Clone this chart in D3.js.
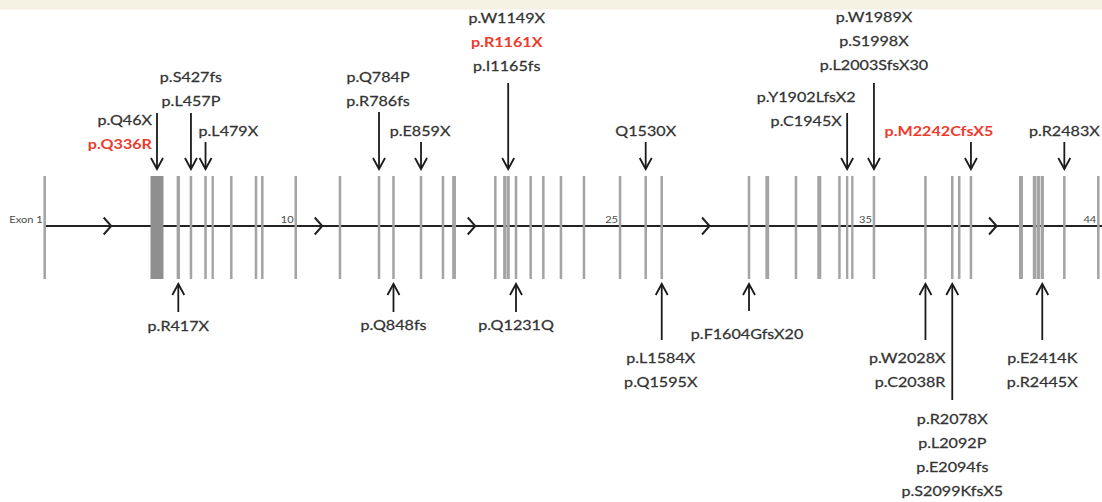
<!DOCTYPE html>
<html><head><meta charset="utf-8">
<script src="https://cdn.jsdelivr.net/npm/d3@7"></script>
<style>
body{margin:0;background:#fff;}
svg text{font-family:Lato,"Open Sans","Noto Sans",sans-serif;}
</style></head>
<body><svg id="chart" width="1102" height="502"></svg>
<script>
// ---- data (gene coordinate: 0 = exon 1, 100 = end of gene) ----
const exonPos = [0, 10.64, 12.66, 13.86, 15.24, 15.92, 17.68, 20.02, 20.62, 23.79,
  27.98, 31.68, 33.05, 35.66, 37.74, 38.79, 42.70, 43.59, 43.92, 44.66,
  46.05, 47.25, 48.92, 51.10, 54.52, 56.95, 58.47, 66.74, 68.47, 71.19,
  73.40, 75.31, 76.04, 76.53, 78.58, 83.46, 86.00, 86.66, 87.77, 92.51,
  93.79, 94.15, 94.53, 96.62, 99.84];
const exonLen = [0.24, 1.23, 0.32, 0.24, 0.24, 0.22, 0.24, 0.24, 0.24, 0.24,
  0.24, 0.24, 0.24, 0.24, 0.24, 0.36, 0.24, 0.30, 0.30, 0.24,
  0.24, 0.24, 0.24, 0.24, 0.24, 0.24, 0.24, 0.24, 0.36, 0.24,
  0.38, 0.24, 0.22, 0.22, 0.24, 0.24, 0.24, 0.24, 0.24, 0.38,
  0.32, 0.32, 0.32, 0.24, 0.24];
const exonNumberIndex = [0, 9, 24, 34, 44];
const exonNumberText = ["Exon 1", "10", "25", "35", "44"];
const directionMarks = [6.3, 26.3, 40.8, 63.0, 90.2];

const topExon = [1, 3, 4, 11, 13, 18, 25, 32, 34, 38, 43];
const topLabels = [
  ["p.Q46X", "p.Q336R"],
  ["p.S427fs", "p.L457P"],
  ["p.L479X"],
  ["p.Q784P", "p.R786fs"],
  ["p.E859X"],
  ["p.W1149X", "p.R1161X", "p.I1165fs"],
  ["Q1530X"],
  ["p.Y1902LfsX2", "p.C1945X"],
  ["p.W1989X", "p.S1998X", "p.L2003SfsX30"],
  ["p.M2242CfsX5"],
  ["p.R2483X"]
];
const topHighlight = [[false, true], [false, false], [false], [false, false], [false],
  [false, true, false], [false], [false, false], [false, false, false], [true], [false]];

const bottomExon = [2, 12, 19, 26, 27, 35, 36, 42];
const bottomLabels = [
  ["p.R417X"],
  ["p.Q848fs"],
  ["p.Q1231Q"],
  ["p.L1584X", "p.Q1595X"],
  ["p.F1604GfsX20"],
  ["p.W2028X", "p.C2038R"],
  ["p.R2078X", "p.L2092P", "p.E2094fs", "p.S2099KfsX5"],
  ["p.E2414K", "p.R2445X"]
];

// ---- layout (pixels) ----
const topLayout = [
  {dx: -5, anchor: "end", y0: 120, tail: 113},
  {dx: 0, anchor: "middle", y0: 77, tail: 113},
  {dx: -7, anchor: "start", y0: 131, tail: 142},
  {dx: -1, anchor: "middle", y0: 77, tail: 112},
  {dx: -1, anchor: "middle", y0: 131, tail: 142},
  {dx: -1.5, anchor: "middle", y0: 18, tail: 83},
  {dx: 0, anchor: "middle", y0: 131, tail: 142},
  {dx: -41, anchor: "middle", y0: 97, tail: 113},
  {dx: 0, anchor: "middle", y0: 17, tail: 83},
  {dx: -32, anchor: "middle", y0: 131, tail: 142},
  {dx: 0, anchor: "middle", y0: 131, tail: 142}
];
const bottomLayout = [
  {dx: 0, anchor: "middle", y0: 326, tail: 312},
  {dx: 0, anchor: "middle", y0: 325, tail: 312},
  {dx: 0, anchor: "middle", y0: 325, tail: 312},
  {dx: -1, anchor: "middle", y0: 358, tail: 340},
  {dx: -2, anchor: "middle", y0: 334, tail: 311},
  {dx: 20, anchor: "end", y0: 358, tail: 340},
  {dx: 0, anchor: "middle", y0: 419, tail: 400},
  {dx: 0, anchor: "middle", y0: 358, tail: 340}
];

const W = 1102, H = 502;
const lineY = 226, exonTop = 176, exonBot = 279;
const topTip = 169, botTip = 284;
const lineGap = 24;
const fontSize = 13.8, stretch = 1.17;
const textColor = "#333333", red = "#ee3a2c";

const svg = d3.select("#chart");
svg.append("rect").attr("x", 0).attr("y", 0).attr("width", W).attr("height", 9.5).attr("fill", "#f4f0e2");

const x = d3.scaleLinear().domain([0, 100]).range([44.7, 1100]);
const wScale = d3.scaleLinear().domain([0, 100]).range([0, 1100 - 44.7]);

// main line
svg.append("line").attr("x1", x(0)).attr("x2", x(100) + 2)
  .attr("y1", lineY).attr("y2", lineY).attr("stroke", "#222").attr("stroke-width", 2);

// exons
svg.append("g").selectAll("rect").data(exonPos).join("rect")
  .attr("x", (d, i) => x(d) - wScale(exonLen[i]) / 2)
  .attr("width", (d, i) => wScale(exonLen[i]))
  .attr("y", exonTop).attr("height", exonBot - exonTop)
  .attr("fill", (d, i) => exonLen[i] > 1 ? "#8f8f8f" : "#a4a4a4");

// direction chevrons
svg.append("g").selectAll("path").data(directionMarks).join("path")
  .attr("d", d => `M${x(d) - 7.5},${lineY - 8.5}L${x(d)},${lineY}L${x(d) - 7.5},${lineY + 8.5}`)
  .attr("fill", "none").attr("stroke", "#222").attr("stroke-width", 2);

// exon numbers
svg.append("g").selectAll("text").data(exonNumberIndex).join("text")
  .attr("transform", d => `translate(${x(exonPos[d]) - 2},${lineY - 3}) scale(${stretch},1)`)
  .attr("text-anchor", "end").attr("font-size", 9.5).attr("fill", "#4a4a4a")
  .text((d, i) => exonNumberText[i]);

function stretchedText(g, tx, ty, anchor, str, color, bold) {
  g.append("text")
    .attr("transform", `translate(${tx},${ty}) scale(${stretch},1)`)
    .attr("text-anchor", anchor)
    .attr("font-size", fontSize)
    .attr("font-weight", bold ? 700 : 400)
    .attr("fill", color)
    .attr("stroke", color).attr("stroke-width", bold ? 0 : 0.25)
    .text(str);
}

const ann = svg.append("g");
// top annotations
topExon.forEach((ei, k) => {
  const ax = x(exonPos[ei]);
  const L = topLayout[k];
  ann.append("line").attr("x1", ax).attr("x2", ax).attr("y1", L.tail).attr("y2", topTip)
    .attr("stroke", "#1a1a1a").attr("stroke-width", 1.8);
  ann.append("path").attr("d", `M${ax - 6},${topTip - 11}L${ax},${topTip}L${ax + 6},${topTip - 11}`)
    .attr("fill", "none").attr("stroke", "#1a1a1a").attr("stroke-width", 1.8);
  topLabels[k].forEach((s, j) => {
    const hl = topHighlight[k][j];
    stretchedText(ann, ax + L.dx, L.y0 + j * lineGap + 4.8, L.anchor, s, hl ? red : textColor, hl);
  });
});
// bottom annotations
bottomExon.forEach((ei, k) => {
  const ax = x(exonPos[ei]);
  const L = bottomLayout[k];
  ann.append("line").attr("x1", ax).attr("x2", ax).attr("y1", botTip).attr("y2", L.tail)
    .attr("stroke", "#1a1a1a").attr("stroke-width", 1.8);
  ann.append("path").attr("d", `M${ax - 6},${botTip + 11}L${ax},${botTip}L${ax + 6},${botTip + 11}`)
    .attr("fill", "none").attr("stroke", "#1a1a1a").attr("stroke-width", 1.8);
  bottomLabels[k].forEach((s, j) => {
    stretchedText(ann, ax + L.dx, L.y0 + j * lineGap + 4.8, L.anchor, s, textColor, false);
  });
});
</script>
</body></html>
